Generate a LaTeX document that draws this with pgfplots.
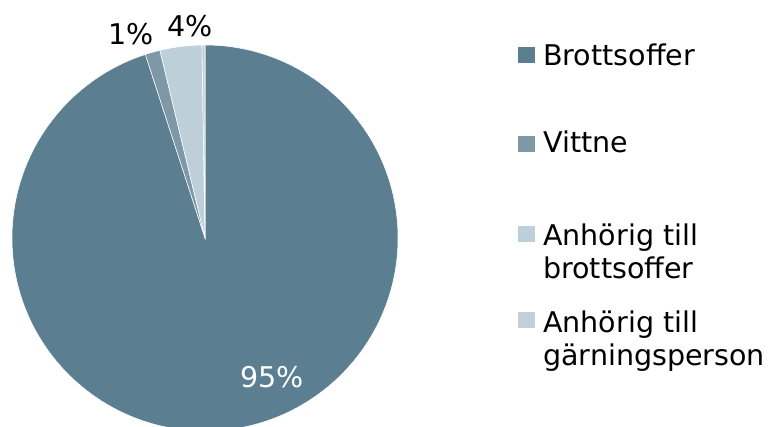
\documentclass[border=0pt]{standalone}
\usepackage{pgfplots}
\pgfplotsset{compat=1.18}
\usepackage{pgfplotstable}
\usepackage{fontspec}
\setmainfont{DejaVu Sans}
\definecolor{cA}{HTML}{5B7F91}
\definecolor{cB}{HTML}{7F98A8}
\definecolor{cC}{HTML}{BDCFD8}
\definecolor{cD}{HTML}{C3CFD6}
\pgfplotstableread{
idx value
0 95
1 1.25
2 3.5
3 0.25
}\piedata
\begin{document}
\pgfplotstablegetelem{0}{value}\of\piedata\pgfmathsetmacro\vA{\pgfplotsretval}%
\pgfplotstablegetelem{1}{value}\of\piedata\pgfmathsetmacro\vB{\pgfplotsretval}%
\pgfplotstablegetelem{2}{value}\of\piedata\pgfmathsetmacro\vC{\pgfplotsretval}%
\pgfplotstablegetelem{3}{value}\of\piedata\pgfmathsetmacro\vD{\pgfplotsretval}%
\pgfmathsetmacro\aO{90}%
\pgfmathsetmacro\aA{\aO-3.6*\vA}%
\pgfmathsetmacro\aB{\aA-3.6*\vB}%
\pgfmathsetmacro\aC{\aB-3.6*\vC}%
\pgfmathsetmacro\aD{\aC-3.6*\vD}%
\begin{tikzpicture}[lbl/.style={font=\fontsize{21.4}{25}\selectfont,inner sep=0pt,anchor=base west}]
\begin{axis}[x=0.75pt,y=0.75pt,xmin=0,xmax=771,ymin=0,ymax=426,hide axis,clip=true]
\fill[cA,draw=white,line width=0.4pt] (205,188) -- ++(\aO:144.75pt) arc[start angle=\aO,end angle=\aA,radius=144.75pt] -- cycle;
\fill[cB,draw=white,line width=0.4pt] (205,188) -- ++(\aA:144.75pt) arc[start angle=\aA,end angle=\aB,radius=144.75pt] -- cycle;
\fill[cC,draw=white,line width=0.4pt] (205,188) -- ++(\aB:144.75pt) arc[start angle=\aB,end angle=\aC,radius=144.75pt] -- cycle;
\fill[cD,draw=white,line width=0.4pt] (205,188) -- ++(\aC:144.75pt) arc[start angle=\aC,end angle=\aD,radius=144.75pt] -- cycle;
\node[lbl] at (108,382) {1\%};
\node[lbl] at (167,389) {4\%};
\node[lbl,text=white] at (240,39) {95\%};
% legend
\fill[cA] (518,363) rectangle (535,379);
\node[lbl] at (543,361) {Brottsoffer};
\fill[cB] (518,274) rectangle (535,290);
\node[lbl] at (543,274) {Vittne};
\fill[cC] (518,184) rectangle (535,200);
\node[lbl] at (543,181) {Anhörig till};
\node[lbl] at (543,148) {brottsoffer};
\fill[cD] (518,98) rectangle (535,114);
\node[lbl] at (543,94) {Anhörig till};
\node[lbl] at (543,61) {gärningsperson};
\end{axis}
\pgfresetboundingbox
\path (0,0) rectangle (578.25pt,319.5pt);
\end{tikzpicture}
\end{document}
